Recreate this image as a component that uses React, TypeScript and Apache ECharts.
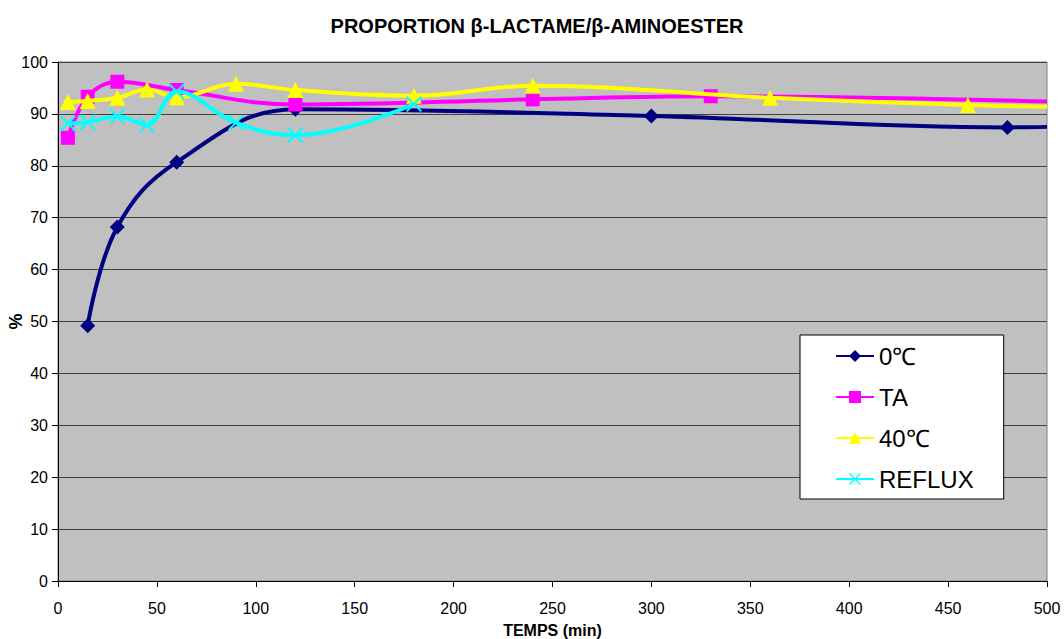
import React, { useEffect, useRef } from "react";
import * as echarts from "echarts";

const title = "PROPORTION β-LACTAME/β-AMINOESTER";
const seriesNames = ["0℃", "TA", "40℃", "REFLUX"];

const zeroX = [15, 30, 60, 120, 300, 480, 500];
const zeroY = [49.2, 68.2, 80.7, 90.9, 89.6, 87.4, 87.5];

const taX = [5, 15, 30, 60, 120, 240, 330, 500];
const taY = [85.4, 93.3, 96.2, 94.6, 91.8, 92.8, 93.4, 92.4];

const fortyX = [5, 15, 30, 45, 60, 90, 120, 180, 240, 360, 460, 500];
const fortyY = [92.3, 92.5, 93.1, 94.7, 93.2, 95.8, 94.6, 93.5, 95.4, 93.1, 91.7, 91.4];

const refluxX = [5, 15, 30, 45, 60, 90, 120, 180];
const refluxY = [88.2, 88.4, 89.5, 87.9, 94.3, 88.3, 85.9, 91.9];

// last point of the first three series is where the line leaves the plot (no marker)
const hiddenLast = [true, true, true, false];

const colors = ["#000080", "#FF00FF", "#FFFF00", "#00FFFF"];
const symbols = [
  "diamond",
  "rect",
  "triangle",
  "path://M0,1.2 L1.2,0 L7,5.8 L12.8,0 L14,1.2 L8.2,7 L14,12.8 L12.8,14 L7,8.2 L1.2,14 L0,12.8 L5.8,7 Z",
];
const symbolSizes = [15, 14, 16, 16];

const xs = [zeroX, taX, fortyX, refluxX];
const ys = [zeroY, taY, fortyY, refluxY];

export default function App() {
  const ref = useRef<HTMLDivElement>(null);
  useEffect(() => {
    if (!ref.current) return;
    const chart = echarts.init(ref.current, null, { renderer: "svg" });
    const font = "Arial, 'Liberation Sans', sans-serif";
    const series = seriesNames.map((name, i) => ({
      name,
      type: "line",
      smooth: 0.4,
      data: xs[i].map((x, j) => {
        const last = j === xs[i].length - 1 && hiddenLast[i];
        return last ? { value: [x, ys[i][j]], symbol: "none" } : [x, ys[i][j]];
      }),
      symbol: symbols[i],
      symbolSize: symbolSizes[i],
      showAllSymbol: true,
      lineStyle: { color: colors[i], width: 4 },
      itemStyle: { color: colors[i] },
      emphasis: { disabled: true },
      z: 2 + i,
    }));
    chart.setOption({
      animation: false,
      backgroundColor: "#ffffff",
      title: {
        text: title,
        left: 532,
        textAlign: "center",
        top: 11,
        textStyle: { fontFamily: font, fontSize: 20, fontWeight: "bold", color: "#000" },
      },
      grid: {
        left: 58,
        right: 17,
        top: 62,
        bottom: 58,
        show: true,
        backgroundColor: "#C0C0C0",
        borderColor: "#808080",
        borderWidth: 1,
        containLabel: false,
        outerBoundsMode: "none",
      },
      legend: {
        orient: "vertical",
        left: 800,
        top: 335,
        backgroundColor: "#ffffff",
        borderColor: "#000000",
        borderWidth: 1,
        borderRadius: 0,
        padding: [9, 30, 8, 35],
        itemGap: 17,
        itemWidth: 38,
        itemHeight: 15,
        textStyle: { fontFamily: font, fontSize: 24, color: "#000", lineHeight: 23 },
        data: seriesNames,
      },
      xAxis: {
        type: "value",
        min: 0,
        max: 500,
        interval: 50,
        name: "TEMPS (min)",
        nameLocation: "middle",
        nameGap: 41,
        nameMoveOverlap: false,
        nameTextStyle: { fontFamily: font, fontSize: 16, fontWeight: "bold", color: "#000" },
        axisLine: { show: true, lineStyle: { color: "#000", width: 1 } },
        axisTick: { show: true, length: 6, lineStyle: { color: "#000" } },
        axisLabel: { fontFamily: font, fontSize: 16, color: "#000", margin: 19 },
        splitLine: { show: false },
      },
      yAxis: {
        type: "value",
        min: 0,
        max: 100,
        interval: 10,
        name: "%",
        nameLocation: "middle",
        nameRotate: 90,
        nameGap: 33,
        nameMoveOverlap: false,
        nameTextStyle: { fontFamily: font, fontSize: 18, fontWeight: "bold", color: "#000" },
        axisLine: { show: true, lineStyle: { color: "#000", width: 1 } },
        axisTick: { show: true, length: 6, lineStyle: { color: "#000" } },
        axisLabel: { fontFamily: font, fontSize: 16, color: "#000", margin: 10 },
        splitLine: { show: true, lineStyle: { color: "#404040", width: 1 } },
      },
      series,
    });
    return () => chart.dispose();
  }, []);
  return (
    <div
      ref={ref}
      style={{ position: "fixed", left: 0, top: 0, width: 1064, height: 639 }}
    />
  );
}
